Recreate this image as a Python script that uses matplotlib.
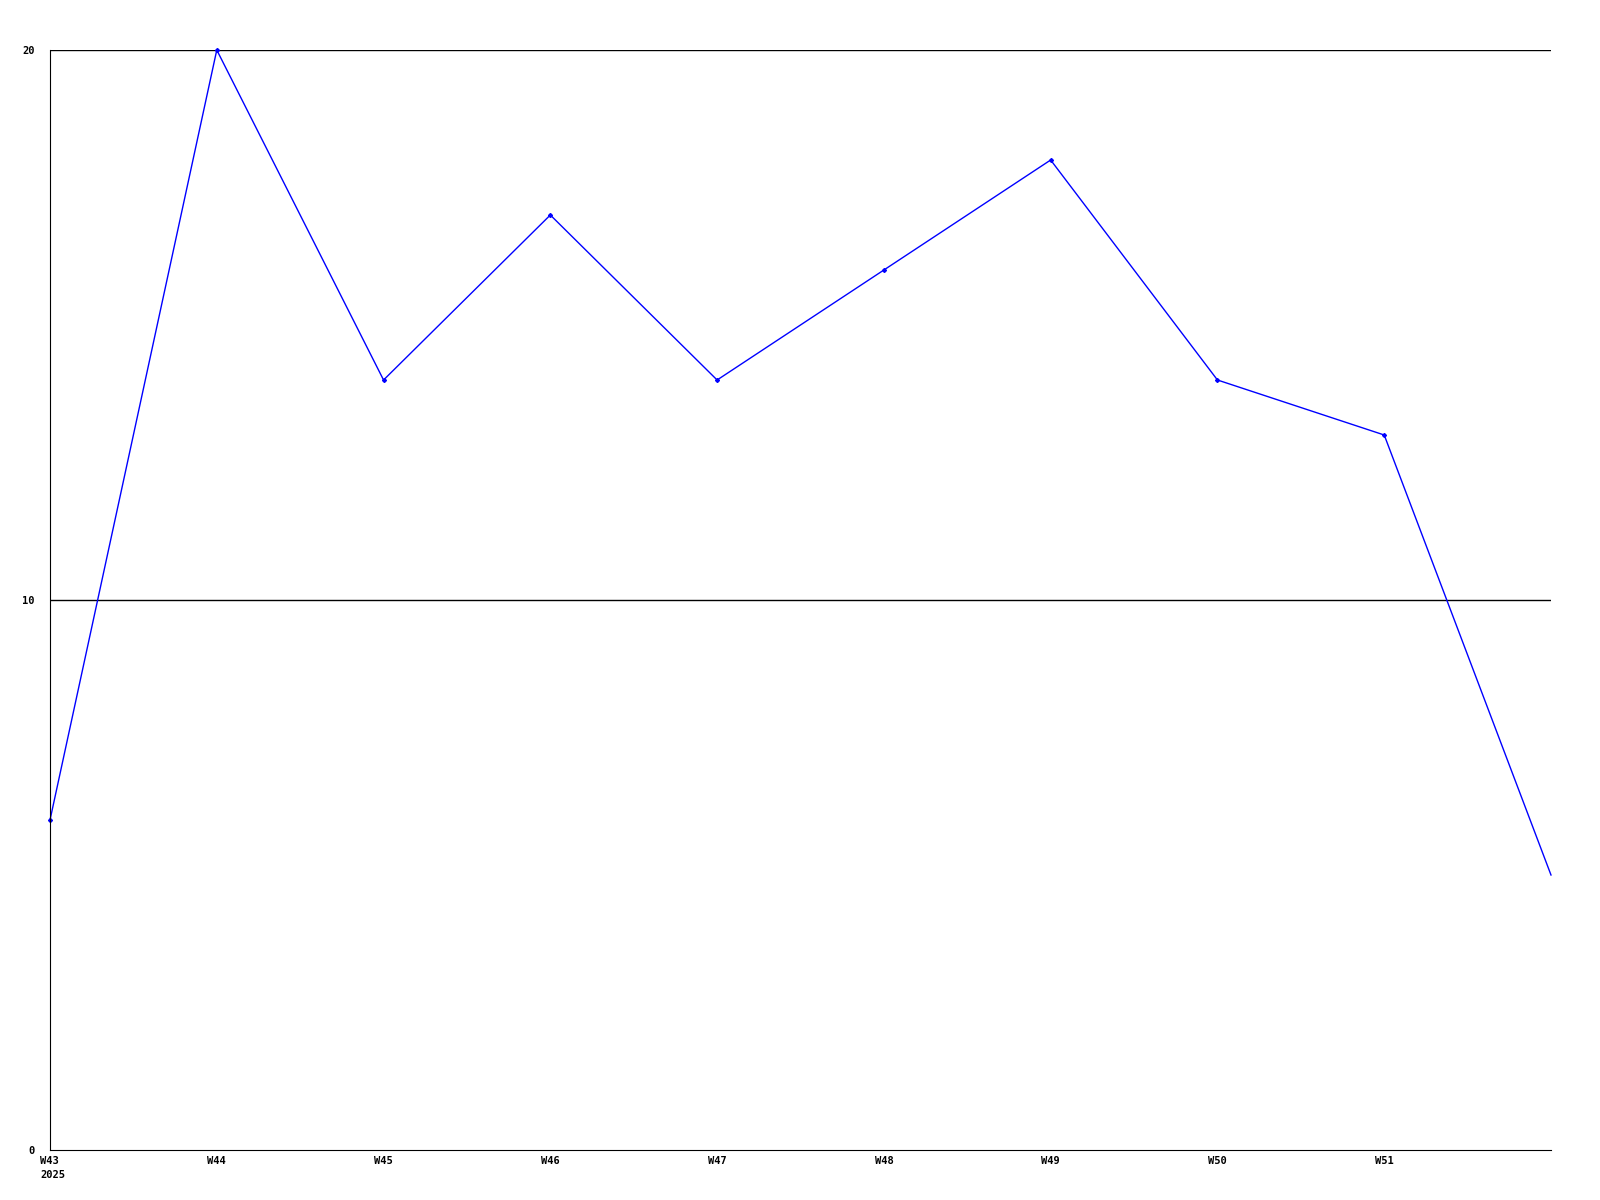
import matplotlib
matplotlib.use("Agg")
import matplotlib.pyplot as plt

weeks = ["W43", "W44", "W45", "W46", "W47", "W48", "W49", "W50", "W51", "W52"]
values = [6, 20, 14, 17, 14, 16, 18, 14, 13, 5]
tick_labels = ["", "W44", "W45", "W46", "W47", "W48", "W49", "W50", "W51"]
first_label = "W43\n2025"

fig = plt.figure(figsize=(16, 12), dpi=100)
ax = fig.add_axes([50/1600, 1 - 1150/1200, 1501/1600, 1100/1200])

x = list(range(len(weeks)))
# no marker on the last point, the line just runs to the edge
ax.plot(x, values, color="#0000ff", lw=1, marker="D", ms=2,
        markevery=list(range(len(weeks) - 1)), clip_on=False)

ax.set_xlim(0, len(weeks) - 1)
ax.set_ylim(0, 20)
for yv in [10, 20]:
    ax.axhline(yv, color="black", lw=1, zorder=0)

ax.spines["top"].set_visible(False)
ax.spines["right"].set_visible(False)

font = dict(fontfamily="DejaVu Sans Mono", fontweight="bold", fontsize=7.5)
ax.set_xticks(x[:-1])
ax.set_xticklabels(tick_labels, **font)
# first label sits centred under the tick, year left-aligned with it
ax.annotate(first_label, xy=(0, 0), xycoords=ax.get_xaxis_transform(),
            xytext=(-10, -6), textcoords="offset pixels", ha="left", va="top",
            linespacing=1.5, **font)

ax.set_yticks([0, 10, 20])
ax.set_yticklabels(["0", "10", "20"], **font)
ax.tick_params(length=0)
ax.tick_params(axis="y", pad=11)
ax.tick_params(axis="x", pad=4)

fig.savefig("out.png", dpi=100)
